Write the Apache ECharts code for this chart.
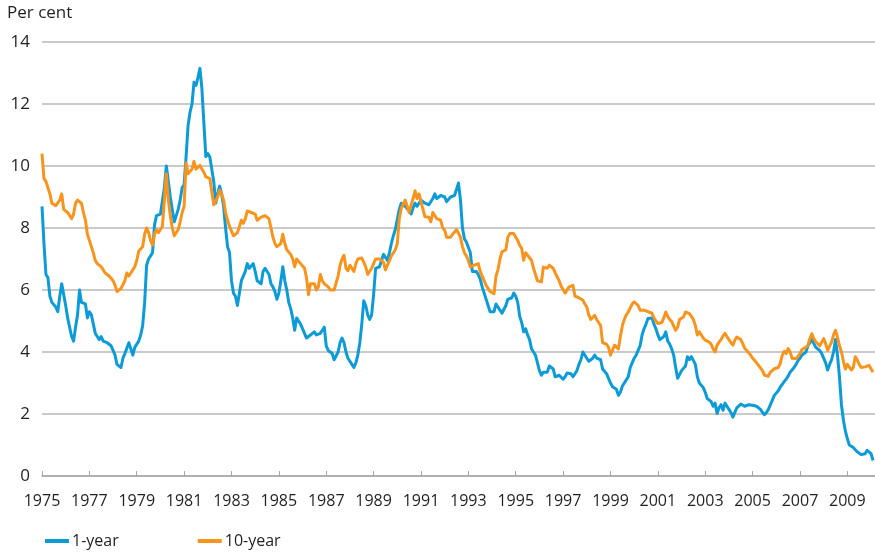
<!DOCTYPE html>
<html>
<head>
<meta charset="utf-8">
<script src="https://cdn.jsdelivr.net/npm/echarts@6/dist/echarts.min.js"></script>
<style>
  html, body { margin: 0; padding: 0; background: #fff; }
  #chart { width: 875px; height: 553px; }
</style>
</head>
<body>
<div id="chart"></div>
<script>
// monthly yields, Jan 1975 .. Feb 2010 (per cent)
var startYear = 1975;
var oneYear = [
  8.7, 7.5, 6.5, 6.4, 5.8, 5.6, 5.6, 5.45, 5.3, 5.8, 6.2, 5.85,          // 1975
  5.5, 5.1, 4.8, 4.5, 4.35, 4.8, 5.2, 6.0, 5.6, 5.55, 5.55, 5.1,         // 1976
  5.3, 5.2, 4.9, 4.6, 4.5, 4.4, 4.5, 4.35, 4.3, 4.3, 4.25, 4.2,          // 1977
  4.05, 3.9, 3.6, 3.55, 3.5, 3.8, 3.95, 3.95, 4.3, 4.1, 3.9, 4.15,       // 1978
  4.2, 4.35, 4.55, 4.85, 5.6, 6.8, 7.0, 7.1, 7.2, 8.1, 8.4, 8.35,        // 1979
  8.45, 8.5, 9.3, 10.0, 9.5, 9.0, 8.6, 8.2, 8.4, 8.6, 8.9, 9.3,          // 1980
  9.4, 10.3, 11.3, 11.74, 12.0, 12.7, 12.6, 12.85, 13.15, 12.5, 11.4, 10.3, // 1981
  10.4, 10.3, 9.9, 9.5, 8.8, 9.1, 9.35, 9.1, 8.7, 8.0, 7.4, 7.2,         // 1982
  6.3, 5.9, 5.8, 5.5, 5.5, 6.3, 6.45, 6.6, 6.85, 6.7, 6.65, 6.85,        // 1983
  6.6, 6.3, 6.25, 6.2, 6.6, 6.7, 6.75, 6.5, 6.2, 6.1, 5.95, 5.7,         // 1984
  5.9, 6.3, 6.75, 6.3, 6.0, 5.6, 5.4, 5.1, 4.7, 5.1, 5.0, 4.9,           // 1985
  4.85, 4.6, 4.45, 4.4, 4.55, 4.55, 4.65, 4.55, 4.55, 4.6, 4.7, 4.8,     // 1986
  4.2, 4.05, 4.0, 3.95, 3.75, 3.8, 4.0, 4.3, 4.45, 4.3, 4.0, 3.8,        // 1987
  3.75, 3.6, 3.5, 3.65, 3.9, 4.3, 4.9, 5.65, 5.5, 5.2, 5.05, 5.2,        // 1988
  5.85, 6.7, 6.7, 6.75, 6.7, 7.15, 7.1, 6.95, 7.2, 7.5, 7.75, 7.95,      // 1989
  8.0, 8.6, 8.8, 8.8, 8.7, 8.65, 8.55, 8.45, 8.65, 8.8, 8.7, 8.8,        // 1990
  8.9, 8.85, 8.8, 8.75, 8.75, 8.8, 8.95, 9.1, 8.95, 8.9, 9.05, 9.05,     // 1991
  9.0, 8.85, 8.9, 9.0, 9.0, 9.05, 9.25, 9.45, 8.9, 8.0, 7.65, 7.55,      // 1992
  7.5, 7.2, 6.6, 6.6, 6.6, 6.5, 6.35, 6.1, 5.9, 5.85, 5.5, 5.3,          // 1993
  5.25, 5.3, 5.55, 5.5, 5.35, 5.25, 5.3, 5.5, 5.7, 5.65, 5.75, 5.9,      // 1994
  5.8, 5.6, 5.15, 4.95, 4.65, 4.75, 4.55, 4.4, 4.1, 4.0, 3.9, 3.65,      // 1995
  3.4, 3.25, 3.35, 3.3, 3.35, 3.55, 3.6, 3.45, 3.2, 3.25, 3.25, 3.2,     // 1996
  3.12, 3.2, 3.32, 3.3, 3.3, 3.2, 3.25, 3.4, 3.6, 3.75, 4.0, 3.95,       // 1997
  3.8, 3.7, 3.75, 3.8, 3.9, 3.8, 3.8, 3.75, 3.45, 3.4, 3.3, 3.15,        // 1998
  3.0, 2.88, 2.9, 2.8, 2.6, 2.7, 2.9, 3.0, 3.1, 3.2, 3.5, 3.65,          // 1999
  3.8, 3.9, 4.05, 4.2, 4.55, 4.75, 4.9, 5.08, 5.12, 5.1, 4.9, 4.75,      // 2000
  4.55, 4.4, 4.4, 4.5, 4.65, 4.35, 4.25, 4.1, 3.9, 3.5, 3.15, 3.2,       // 2001
  3.4, 3.45, 3.55, 3.85, 3.75, 3.85, 3.85, 3.6, 3.2, 3.0, 2.95, 2.85,    // 2002
  2.7, 2.5, 2.5, 2.4, 2.25, 2.35, 2.02, 2.2, 2.3, 2.12, 2.35, 2.25,      // 2003
  2.15, 2.05, 1.9, 2.05, 2.2, 2.25, 2.32, 2.3, 2.25, 2.28, 2.3, 2.25,    // 2004
  2.28, 2.22, 2.25, 2.2, 2.15, 2.05, 1.98, 2.05, 2.15, 2.2, 2.45, 2.6,   // 2005
  2.65, 2.75, 2.87, 2.95, 3.05, 3.12, 3.22, 3.35, 3.42, 3.5, 3.6, 3.72,  // 2006
  3.8, 3.9, 3.92, 4.0, 4.2, 4.3, 4.4, 4.42, 4.15, 4.12, 4.05, 3.95,      // 2007
  4.0, 3.65, 3.42, 3.6, 3.75, 4.0, 4.4, 3.9, 3.2, 2.3, 1.8, 1.45,        // 2008
  1.2, 1.0, 0.94, 0.92, 0.85, 0.78, 0.75, 0.69, 0.7, 0.72, 0.83, 0.8,    // 2009
  0.72, 0.5                                                              // 2010
];
var tenYear = [
  10.4, 9.6, 9.5, 9.55, 9.1, 8.8, 8.75, 8.72, 8.68, 8.9, 9.1, 8.6,       // 1975
  8.55, 8.5, 8.4, 8.3, 8.45, 8.8, 8.9, 8.9, 8.8, 8.5, 8.25, 7.8,         // 1976
  7.6, 7.4, 7.2, 6.95, 6.85, 6.8, 6.75, 6.65, 6.55, 6.5, 6.45, 6.42,     // 1977
  6.3, 6.15, 5.95, 6.0, 6.05, 6.1, 6.3, 6.55, 6.45, 6.55, 6.65, 6.75,    // 1978
  6.95, 7.25, 7.3, 7.4, 7.8, 8.0, 7.85, 7.6, 7.45, 7.8, 7.95, 7.85,      // 1979
  7.95, 8.05, 8.9, 9.75, 8.9, 8.4, 8.0, 7.75, 7.8, 7.95, 8.2, 8.5,       // 1980
  8.7, 10.1, 9.75, 9.7, 9.9, 10.15, 9.9, 9.95, 10.02, 9.9, 9.8, 9.65,    // 1981
  9.62, 9.6, 9.65, 8.75, 8.8, 9.0, 9.22, 9.1, 8.9, 8.5, 8.25, 8.05,      // 1982
  7.9, 7.75, 7.8, 7.85, 8.05, 8.25, 8.15, 8.3, 8.55, 8.55, 8.5, 8.45,    // 1983
  8.45, 8.25, 8.3, 8.35, 8.4, 8.4, 8.35, 8.3, 8.0, 7.7, 7.5, 7.4,        // 1984
  7.4, 7.5, 7.8, 7.5, 7.3, 7.25, 7.15, 7.0, 6.75, 7.0, 6.95, 6.85,       // 1985
  6.8, 6.7, 6.4, 5.85, 6.2, 6.2, 6.2, 6.0, 6.1, 6.5, 6.3, 6.2,           // 1986
  6.2, 6.1, 6.0, 6.0, 6.0, 6.0, 6.45, 6.8, 7.0, 7.12, 6.7, 6.62,         // 1987
  6.8, 6.7, 6.6, 6.85, 7.0, 7.0, 7.03, 6.9, 6.75, 6.5, 6.5, 6.7,         // 1988
  6.85, 7.0, 6.95, 7.0, 7.03, 6.9, 6.65, 6.8, 6.95, 7.1, 7.15, 7.3,      // 1989
  7.5, 8.3, 8.63, 8.6, 8.9, 8.7, 8.5, 8.75, 8.95, 9.2, 8.95, 9.1,        // 1990
  9.05, 8.6, 8.36, 8.4, 8.35, 8.2, 8.5, 8.45, 8.3, 8.3, 8.25, 8.0,       // 1991
  7.93, 7.7, 7.66, 7.7, 7.8, 7.87, 7.95, 7.93, 7.7, 7.4, 7.2, 7.1,       // 1992
  6.95, 6.75, 6.7, 6.8, 6.85, 6.85, 6.6, 6.45, 6.3, 6.15, 6.1, 5.95,     // 1993
  5.9, 5.88, 6.45, 6.65, 7.0, 7.23, 7.25, 7.3, 7.7, 7.82, 7.8, 7.82,     // 1994
  7.7, 7.6, 7.44, 7.35, 6.96, 7.2, 7.12, 7.1, 6.96, 6.7, 6.5, 6.3,       // 1995
  6.3, 6.26, 6.74, 6.74, 6.7, 6.8, 6.85, 6.7, 6.55, 6.5, 6.3, 6.12,      // 1996
  6.1, 5.9, 5.85, 6.1, 6.12, 6.15, 5.8, 5.8, 5.75, 5.72, 5.67, 5.55,     // 1997
  5.45, 5.2, 5.05, 5.0, 5.18, 5.05, 4.95, 4.85, 4.3, 4.3, 4.25, 4.15,    // 1998
  3.9, 4.05, 4.22, 4.18, 4.1, 4.5, 4.85, 5.05, 5.2, 5.29, 5.3, 5.55,     // 1999
  5.62, 5.67, 5.5, 5.35, 5.4, 5.35, 5.29, 5.3, 5.28, 5.25, 5.1, 5.0,     // 2000
  4.92, 4.88, 4.95, 5.1, 5.29, 5.15, 5.05, 4.98, 4.95, 4.7, 4.8, 5.05,   // 2001
  5.08, 5.13, 5.29, 5.26, 5.24, 5.2, 5.05, 4.85, 4.55, 4.65, 4.6, 4.45,  // 2002
  4.38, 4.32, 4.32, 4.25, 4.1, 4.0, 4.22, 4.32, 4.4, 4.52, 4.6, 4.5,     // 2003
  4.4, 4.3, 4.22, 4.38, 4.48, 4.45, 4.4, 4.27, 4.12, 4.05, 3.98, 3.9,    // 2004
  3.8, 3.73, 3.78, 3.57, 3.52, 3.4, 3.25, 3.2, 3.22, 3.35, 3.3, 3.46,    // 2005
  3.4, 3.5, 3.63, 3.89, 4.02, 3.95, 4.11, 4.0, 3.8, 3.84, 3.78, 3.73,    // 2006
  3.95, 4.08, 4.11, 4.15, 4.22, 4.43, 4.59, 4.43, 4.33, 4.38, 4.2, 4.16, // 2007
  4.43, 4.27, 4.05, 4.1, 4.32, 4.55, 4.7, 4.48, 4.2, 4.0, 3.7, 3.45,     // 2008
  3.6, 3.65, 3.42, 3.5, 3.85, 3.75, 3.6, 3.5, 3.48, 3.52, 3.46, 3.57,    // 2009
  3.45, 3.35                                                             // 2010
];
var seriesNames = ['1-year', '10-year'];
var seriesColors = ['#0c9bd6', '#f7941d'];
var yTicks = [0, 2, 4, 6, 8, 10, 12, 14];

var textColor = '#231f20';
var fontFamily = '"Open Sans", "Noto Sans", sans-serif';

function toPoints(values) {
    var res = [];
    for (var i = 0; i < values.length; i++) {
        res.push([startYear + i / 12, values[i]]);
    }
    return res;
}

var chart = echarts.init(document.getElementById('chart'), null, { renderer: 'canvas' });

var option = {
    backgroundColor: '#fff',
    animation: false,
    textStyle: { fontFamily: fontFamily, color: textColor },
    graphic: [{
        type: 'text',
        left: 7,
        top: 5,
        style: { text: 'Per cent', fontSize: 17, fontFamily: fontFamily, fill: textColor }
    }],
    legend: {
        left: 40,
        top: 528,
        icon: 'rect',
        itemWidth: 24,
        itemHeight: 4,
        itemGap: 79,
        textStyle: { fontSize: 16, color: textColor, fontFamily: fontFamily, padding: [0, 0, 0, -2] },
        data: seriesNames
    },
    grid: { left: 42, right: 0, top: 42, bottom: 77 },
    xAxis: {
        type: 'value',
        min: 1975,
        max: 2010 + 2 / 12,
        interval: 2,
        axisLine: { show: true, lineStyle: { color: '#a6a6a6', width: 1.5 } },
        axisTick: { show: true, inside: true, length: 5, lineStyle: { color: '#a6a6a6', width: 1 } },
        axisLabel: {
            margin: 17,
            fontSize: 16,
            color: textColor,
            showMaxLabel: false,
            formatter: function (v) { return (v % 1 === 0) ? String(v) : ''; }
        },
        splitLine: { show: false }
    },
    yAxis: {
        type: 'value',
        min: yTicks[0],
        max: yTicks[yTicks.length - 1],
        interval: 2,
        axisLine: { show: false },
        axisTick: { show: false },
        axisLabel: { margin: 12, fontSize: 17, color: textColor },
        splitLine: { lineStyle: { color: '#b8b8b8', width: 1.5 } }
    },
    series: [
        {
            name: seriesNames[0],
            type: 'line',
            showSymbol: false,
            symbol: 'none',
            color: seriesColors[0],
            lineStyle: { width: 3, color: seriesColors[0], join: 'round' },
            data: toPoints(oneYear)
        },
        {
            name: seriesNames[1],
            type: 'line',
            showSymbol: false,
            symbol: 'none',
            color: seriesColors[1],
            lineStyle: { width: 3, color: seriesColors[1], join: 'round' },
            data: toPoints(tenYear)
        }
    ]
};
chart.setOption(option);
</script>
</body>
</html>
